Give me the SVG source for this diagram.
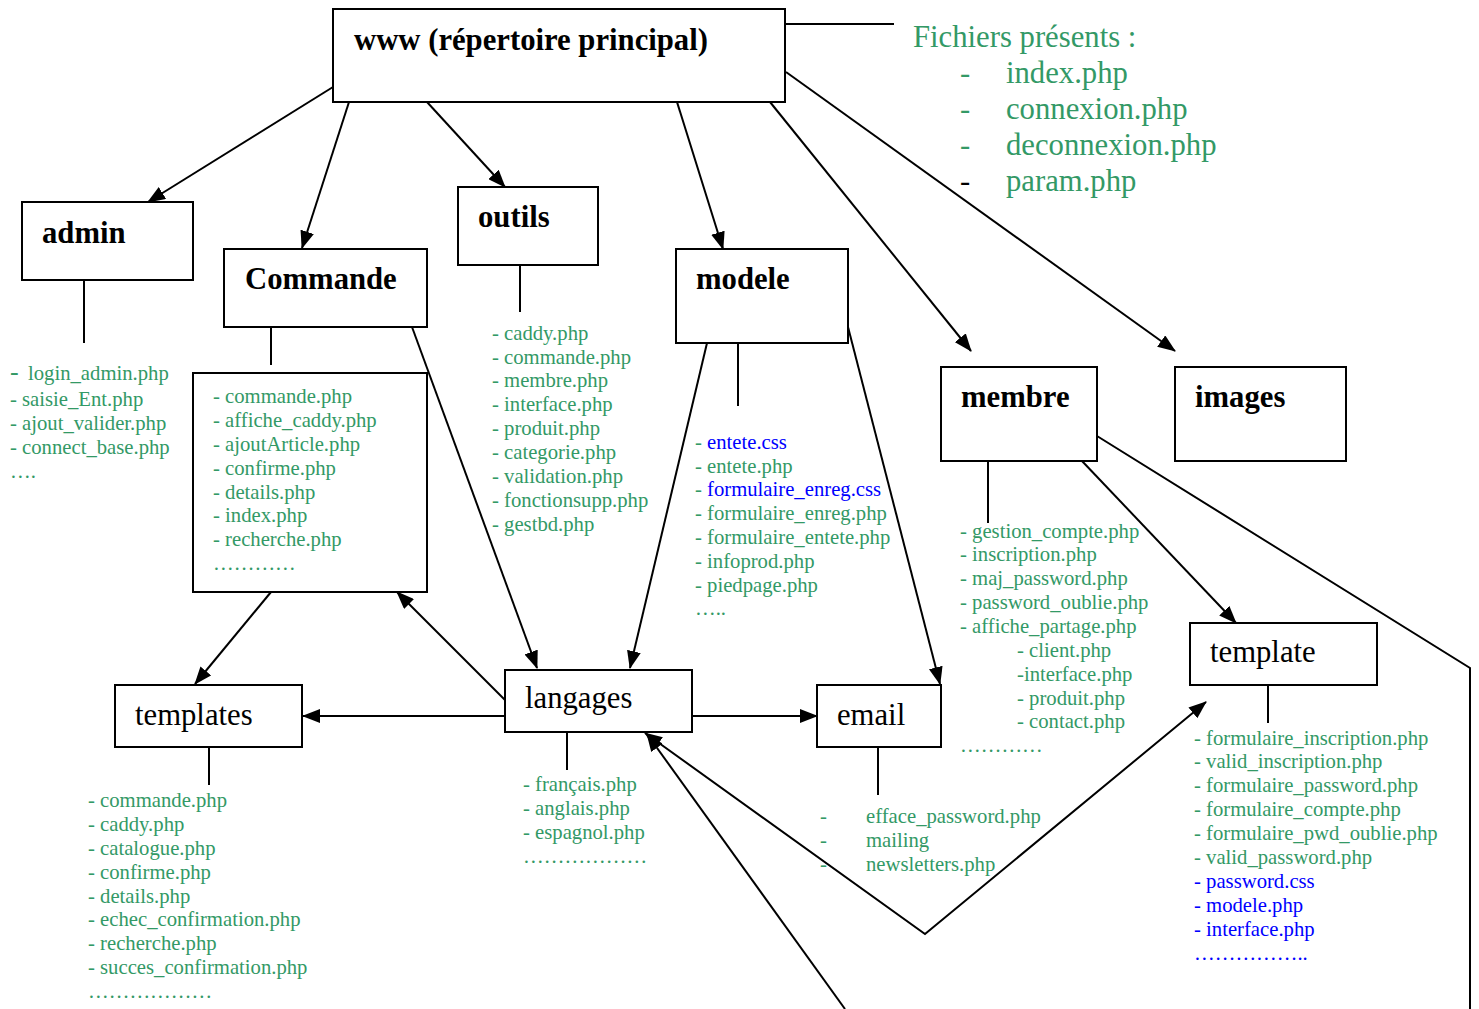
<svg xmlns="http://www.w3.org/2000/svg" width="1479" height="1009" viewBox="0 0 1479 1009">
<style>
.box{fill:#fff;stroke:#000;stroke-width:2}
.bl{font-family:"Liberation Serif","Times New Roman",serif;font-size:30.7px;font-weight:bold;fill:#000}
.rl{font-family:"Liberation Serif","Times New Roman",serif;font-size:30.7px;fill:#000}
.big{font-family:"Liberation Serif","Times New Roman",serif;font-size:30.7px;fill:#339966}
.ls{font-family:"Liberation Serif","Times New Roman",serif;font-size:20.7px;fill:#339966}
.blue{fill:#0000ff}
.ln{stroke:#000;stroke-width:2;fill:none}
.ar{stroke:#000;stroke-width:2;fill:none;marker-end:url(#ah)}
</style>
<defs>
<marker id="ah" markerUnits="userSpaceOnUse" markerWidth="18" markerHeight="14" refX="17" refY="7" orient="auto-start-reverse" viewBox="0 0 18 14">
<path d="M0,0 L18,7 L0,14 z" fill="#000"/>
</marker>
</defs>
<rect width="1479" height="1009" fill="#fff"/>

<g id="connectors">
<line class="ln" x1="785" y1="24" x2="894" y2="24"/>
<line class="ar" x1="333" y1="87" x2="148" y2="202"/>
<line class="ar" x1="349" y1="102" x2="302" y2="248"/>
<line class="ar" x1="427" y1="102" x2="505" y2="187"/>
<line class="ar" x1="677" y1="102" x2="723" y2="249"/>
<line class="ar" x1="770" y1="102" x2="971" y2="351"/>
<line class="ar" x1="786" y1="72" x2="1175" y2="351"/>
<line class="ln" x1="84" y1="280" x2="84" y2="343"/>
<line class="ln" x1="271" y1="327" x2="271" y2="365"/>
<line class="ln" x1="520" y1="265" x2="520" y2="312"/>
<line class="ln" x1="738" y1="343" x2="738" y2="406"/>
<line class="ln" x1="988" y1="461" x2="988" y2="523"/>
<line class="ln" x1="1268" y1="685" x2="1268" y2="723"/>
<line class="ln" x1="209" y1="747" x2="209" y2="785"/>
<line class="ln" x1="567" y1="732" x2="567" y2="770"/>
<line class="ln" x1="878" y1="747" x2="878" y2="795"/>
<line class="ar" x1="412" y1="327" x2="537" y2="668"/>
<line class="ar" x1="707" y1="343" x2="630" y2="668"/>
<line class="ar" x1="848" y1="327" x2="940" y2="684"/>
<line class="ar" x1="271" y1="592" x2="195" y2="684"/>
<line class="ar" x1="505" y1="700" x2="397" y2="592"/>
<line class="ar" x1="505" y1="716" x2="303" y2="716"/>
<line class="ar" x1="692" y1="716" x2="817" y2="716"/>
<line class="ar" x1="1082" y1="461" x2="1236" y2="623"/>
<path class="ln" d="M645,733 L925,934 L1206,702" style="marker-start:url(#ah);marker-end:url(#ah)"/>
<line class="ar" x1="845" y1="1009" x2="647" y2="734"/>
<polyline class="ln" points="1097,436 1470,668 1470,1009"/>
</g>

<g id="www">
<rect class="box" x="333" y="9" width="452" height="93"/>
<text class="bl" x="354" y="50">www (répertoire principal)</text>
</g>

<g id="fichiers">
<text class="big" x="913" y="47">Fichiers présents :</text>
<text class="big" x="960" y="83">-</text><text class="big" x="1006" y="83">index.php</text>
<text class="big" x="960" y="119">-</text><text class="big" x="1006" y="119">connexion.php</text>
<text class="big" x="960" y="155">-</text><text class="big" x="1006" y="155">deconnexion.php</text>
<text class="big" x="960" y="191" style="fill:#000">-</text><text class="big" x="1006" y="191">param.php</text>
</g>

<g id="admin">
<rect class="box" x="22" y="202" width="171" height="78"/>
<text class="bl" x="42" y="243">admin</text>
</g>
<g id="admin-files" class="ls">
<text x="10" y="380" style="font-size:26px">-</text><text x="28" y="380">login_admin.php</text>
<text x="10" y="406">- saisie_Ent.php</text>
<text x="10" y="430">- ajout_valider.php</text>
<text x="10" y="454">- connect_base.php</text>
<text x="10" y="478">….</text>
</g>

<g id="commande">
<rect class="box" x="224" y="249" width="203" height="78"/>
<text class="bl" x="245" y="289">Commande</text>
</g>
<g id="commande-files" class="ls">
<rect class="box" x="193" y="373" width="234" height="219"/>
<text x="213" y="403">- commande.php</text>
<text x="213" y="427">- affiche_caddy.php</text>
<text x="213" y="451">- ajoutArticle.php</text>
<text x="213" y="475">- confirme.php</text>
<text x="213" y="499">- details.php</text>
<text x="213" y="522">- index.php</text>
<text x="213" y="546">- recherche.php</text>
<text x="213" y="570">…………</text>
</g>

<g id="outils">
<rect class="box" x="458" y="187" width="140" height="78"/>
<text class="bl" x="478" y="227">outils</text>
</g>
<g id="outils-files" class="ls">
<text x="492" y="340">- caddy.php</text>
<text x="492" y="364">- commande.php</text>
<text x="492" y="387">- membre.php</text>
<text x="492" y="411">- interface.php</text>
<text x="492" y="435">- produit.php</text>
<text x="492" y="459">- categorie.php</text>
<text x="492" y="483">- validation.php</text>
<text x="492" y="507">- fonctionsupp.php</text>
<text x="492" y="531">- gestbd.php</text>
</g>

<g id="modele">
<rect class="box" x="676" y="249" width="172" height="94"/>
<text class="bl" x="696" y="289">modele</text>
</g>
<g id="modele-files" class="ls">
<text x="695" y="449">- <tspan class="blue">entete.css</tspan></text>
<text x="695" y="473">- entete.php</text>
<text x="695" y="496">- <tspan class="blue">formulaire_enreg.css</tspan></text>
<text x="695" y="520">- formulaire_enreg.php</text>
<text x="695" y="544">- formulaire_entete.php</text>
<text x="695" y="568">- infoprod.php</text>
<text x="695" y="592">- piedpage.php</text>
<text x="695" y="615">…..</text>
</g>

<g id="membre">
<rect class="box" x="941" y="367" width="156" height="94"/>
<text class="bl" x="961" y="407">membre</text>
</g>
<g id="membre-files" class="ls">
<text x="960" y="538">- gestion_compte.php</text>
<text x="960" y="561">- inscription.php</text>
<text x="960" y="585">- maj_password.php</text>
<text x="960" y="609">- password_oublie.php</text>
<text x="960" y="633">- affiche_partage.php</text>
<text x="1017" y="657">- client.php</text>
<text x="1017" y="681">-interface.php</text>
<text x="1017" y="705">- produit.php</text>
<text x="1017" y="728">- contact.php</text>
<text x="960" y="752">…………</text>
</g>

<g id="images">
<rect class="box" x="1175" y="367" width="171" height="94"/>
<text class="bl" x="1195" y="407">images</text>
</g>

<g id="template">
<rect class="box" x="1190" y="623" width="187" height="62"/>
<text class="rl" x="1210" y="662">template</text>
</g>
<g id="template-files" class="ls">
<text x="1194" y="745">- formulaire_inscription.php</text>
<text x="1194" y="768">- valid_inscription.php</text>
<text x="1194" y="792">- formulaire_password.php</text>
<text x="1194" y="816">- formulaire_compte.php</text>
<text x="1194" y="840">- formulaire_pwd_oublie.php</text>
<text x="1194" y="864">- valid_password.php</text>
<text x="1194" y="888" class="blue">- password.css</text>
<text x="1194" y="912" class="blue">- modele.php</text>
<text x="1194" y="936" class="blue">- interface.php</text>
<text x="1194" y="960" class="blue">……………..</text>
</g>

<g id="templates">
<rect class="box" x="115" y="685" width="187" height="62"/>
<text class="rl" x="135" y="725">templates</text>
</g>
<g id="templates-files" class="ls">
<text x="88" y="807">- commande.php</text>
<text x="88" y="831">- caddy.php</text>
<text x="88" y="855">- catalogue.php</text>
<text x="88" y="879">- confirme.php</text>
<text x="88" y="903">- details.php</text>
<text x="88" y="926">- echec_confirmation.php</text>
<text x="88" y="950">- recherche.php</text>
<text x="88" y="974">- succes_confirmation.php</text>
<text x="88" y="998">………………</text>
</g>

<g id="langages">
<rect class="box" x="505" y="670" width="187" height="62"/>
<text class="rl" x="525" y="708">langages</text>
</g>
<g id="langages-files" class="ls">
<text x="523" y="791">- français.php</text>
<text x="523" y="815">- anglais.php</text>
<text x="523" y="839">- espagnol.php</text>
<text x="523" y="863">………………</text>
</g>

<g id="email">
<rect class="box" x="817" y="685" width="124" height="62"/>
<text class="rl" x="837" y="725">email</text>
</g>
<g id="email-files" class="ls">
<text x="820" y="823">-</text><text x="866" y="823">efface_password.php</text>
<text x="820" y="847">-</text><text x="866" y="847">mailing</text>
<text x="820" y="871">-</text><text x="866" y="871">newsletters.php</text>
</g>
</svg>
